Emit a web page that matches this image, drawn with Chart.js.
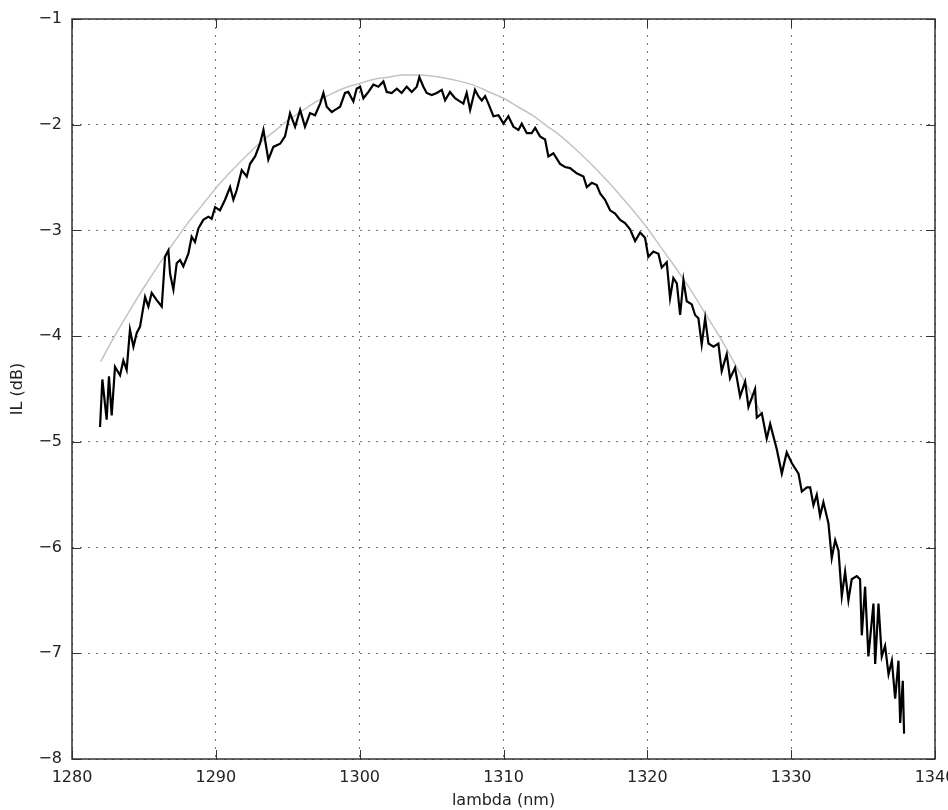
<!DOCTYPE html>
<html>
<head>
<meta charset="utf-8">
<script src="https://cdn.jsdelivr.net/npm/chart.js@4"></script>
<style>
  body { margin: 0; background: #fff; }
  canvas { display: block; }
</style>
</head>
<body>
<canvas id="grafico" width="948" height="810"></canvas>
<script>
// mesure (courbe noire)
const lambdaNm = [
  1281.95, 1282.11, 1282.41, 1282.57, 1282.76, 1282.99, 1283.34, 1283.57, 1283.80, 1284.03,
  1284.27, 1284.50, 1284.73, 1285.08, 1285.31, 1285.54, 1285.89, 1286.24, 1286.47, 1286.70,
  1286.82, 1287.05, 1287.28, 1287.51, 1287.74, 1288.09, 1288.32, 1288.55, 1288.79, 1289.13,
  1289.48, 1289.71, 1289.95, 1290.29, 1290.64, 1290.99, 1291.22, 1291.45, 1291.80, 1292.15,
  1292.38, 1292.73, 1293.07, 1293.31, 1293.65, 1294.00, 1294.47, 1294.81, 1295.16, 1295.51,
  1295.86, 1296.20, 1296.55, 1296.90, 1297.25, 1297.48, 1297.71, 1298.06, 1298.29, 1298.64,
  1298.98, 1299.21, 1299.56, 1299.79, 1300.03, 1300.26, 1300.61, 1300.95, 1301.30, 1301.65,
  1301.88, 1302.23, 1302.58, 1302.92, 1303.27, 1303.62, 1303.97, 1304.15, 1304.43, 1304.66,
  1305.01, 1305.36, 1305.71, 1305.94, 1306.28, 1306.63, 1306.86, 1307.21, 1307.44, 1307.68,
  1308.02, 1308.25, 1308.49, 1308.72, 1308.95, 1309.30, 1309.65, 1310.00, 1310.34, 1310.69,
  1311.04, 1311.27, 1311.62, 1311.96, 1312.20, 1312.54, 1312.89, 1313.12, 1313.47, 1313.93,
  1314.28, 1314.63, 1315.09, 1315.56, 1315.79, 1316.14, 1316.48, 1316.72, 1317.06, 1317.41,
  1317.76, 1318.11, 1318.45, 1318.80, 1319.15, 1319.50, 1319.84, 1320.07, 1320.42, 1320.77,
  1321.00, 1321.35, 1321.58, 1321.81, 1322.05, 1322.28, 1322.51, 1322.74, 1323.09, 1323.32,
  1323.55, 1323.78, 1324.02, 1324.25, 1324.60, 1324.94, 1325.17, 1325.52, 1325.75, 1326.10,
  1326.45, 1326.80, 1327.03, 1327.49, 1327.61, 1327.96, 1328.30, 1328.54, 1329.00, 1329.35,
  1329.69, 1330.04, 1330.51, 1330.74, 1331.09, 1331.32, 1331.55, 1331.78, 1332.01, 1332.24,
  1332.59, 1332.82, 1333.06, 1333.29, 1333.52, 1333.75, 1333.98, 1334.21, 1334.56, 1334.79,
  1334.91, 1335.14, 1335.37, 1335.72, 1335.84, 1336.07, 1336.30, 1336.53, 1336.77, 1337.00,
  1337.23, 1337.46, 1337.58, 1337.76, 1337.85
];
const ilDb = [
  -4.86, -4.41, -4.79, -4.38, -4.75, -4.29, -4.37, -4.23, -4.32, -3.94,
  -4.10, -3.97, -3.91, -3.63, -3.72, -3.59, -3.66, -3.72, -3.25, -3.19,
  -3.41, -3.56, -3.31, -3.28, -3.34, -3.22, -3.06, -3.11, -2.98, -2.90,
  -2.87, -2.89, -2.78, -2.81, -2.71, -2.59, -2.71, -2.62, -2.43, -2.49,
  -2.37, -2.30, -2.18, -2.05, -2.33, -2.21, -2.18, -2.11, -1.89, -2.02,
  -1.86, -2.02, -1.89, -1.91, -1.80, -1.70, -1.83, -1.88, -1.86, -1.83,
  -1.70, -1.69, -1.78, -1.66, -1.64, -1.75, -1.69, -1.62, -1.64, -1.59,
  -1.69, -1.70, -1.66, -1.70, -1.64, -1.69, -1.64, -1.55, -1.64, -1.70,
  -1.72, -1.70, -1.67, -1.77, -1.69, -1.75, -1.77, -1.80, -1.70, -1.86,
  -1.67, -1.73, -1.77, -1.73, -1.80, -1.92, -1.91, -1.99, -1.92, -2.02,
  -2.05, -1.99, -2.08, -2.08, -2.03, -2.11, -2.14, -2.30, -2.27, -2.37,
  -2.40, -2.41, -2.46, -2.49, -2.59, -2.55, -2.57, -2.65, -2.71, -2.81,
  -2.84, -2.90, -2.93, -2.99, -3.10, -3.02, -3.07, -3.25, -3.20, -3.22,
  -3.35, -3.30, -3.64, -3.45, -3.50, -3.80, -3.47, -3.67, -3.70, -3.80,
  -3.83, -4.08, -3.83, -4.07, -4.10, -4.07, -4.33, -4.17, -4.40, -4.30,
  -4.57, -4.43, -4.67, -4.50, -4.77, -4.73, -4.97, -4.83, -5.07, -5.30,
  -5.10, -5.20, -5.30, -5.47, -5.43, -5.43, -5.60, -5.50, -5.70, -5.57,
  -5.77, -6.10, -5.93, -6.03, -6.46, -6.23, -6.50, -6.30, -6.27, -6.30,
  -6.83, -6.37, -7.03, -6.53, -7.10, -6.53, -7.03, -6.93, -7.20, -7.07,
  -7.43, -7.07, -7.66, -7.26, -7.76
];

// ajustement (courbe grise)
const fitNm = [
  1282, 1283, 1284, 1285, 1286, 1287, 1288, 1289, 1290, 1291, 1292, 1293,
  1294, 1295, 1296, 1297, 1298, 1299, 1300, 1301, 1302, 1303, 1304, 1305,
  1306, 1307, 1308, 1309, 1310, 1311, 1312, 1313, 1314, 1315, 1316, 1317,
  1318, 1319, 1320, 1321, 1322, 1323, 1324, 1325, 1326, 1327, 1328
];
const fitDb = [
  -4.24, -3.99, -3.76, -3.54, -3.33, -3.13, -2.94, -2.77, -2.60, -2.45, -2.31, -2.18,
  -2.07, -1.96, -1.87, -1.78, -1.71, -1.65, -1.61, -1.57, -1.55, -1.53, -1.53, -1.54,
  -1.56, -1.59, -1.63, -1.69, -1.75, -1.83, -1.91, -2.01, -2.11, -2.23, -2.36, -2.50,
  -2.65, -2.81, -2.98, -3.17, -3.36, -3.56, -3.78, -4.00, -4.24, -4.49, -4.75
];

const xTicks = [1280, 1290, 1300, 1310, 1320, 1330, 1340];
const yTicks = [-8, -7, -6, -5, -4, -3, -2, -1];

const police = { family: "DejaVu Sans", size: 16 };
const moins = v => (v < 0 ? "\u2212" + Math.abs(v) : String(v));

// cadre + graduations vers l'intérieur (style matplotlib)
const cadre = {
  id: "cadre",
  afterDraw(chart) {
    const { ctx, chartArea: a, scales } = chart;
    const t = 9;
    ctx.save();
    ctx.strokeStyle = "#333";
    ctx.lineWidth = 1;
    ctx.beginPath();
    xTicks.forEach(v => {
      const px = Math.round(scales.x.getPixelForValue(v)) + 0.5;
      ctx.moveTo(px, a.bottom); ctx.lineTo(px, a.bottom - t);
      ctx.moveTo(px, a.top); ctx.lineTo(px, a.top + t);
    });
    yTicks.forEach(v => {
      const py = Math.round(scales.y.getPixelForValue(v)) + 0.5;
      ctx.moveTo(a.left, py); ctx.lineTo(a.left + t, py);
      ctx.moveTo(a.right, py); ctx.lineTo(a.right - t, py);
    });
    ctx.stroke();
    ctx.lineWidth = 1.5;
    ctx.strokeRect(a.left, a.top, a.right - a.left, a.bottom - a.top);
    ctx.restore();
  }
};

const ctx = document.getElementById("grafico");

new Chart(ctx, {
  type: "line",
  data: {
    datasets: [
      {
        label: "mesure",
        data: lambdaNm.map((l, i) => ({ x: l, y: ilDb[i] })),
        borderColor: "#000",
        borderWidth: 2.2,
        pointRadius: 0,
        tension: 0,
        order: 1,
      },
      {
        label: "fit",
        data: fitNm.map((l, i) => ({ x: l, y: fitDb[i] })),
        borderColor: "#c4c4c4",
        borderWidth: 1.5,
        pointRadius: 0,
        cubicInterpolationMode: "monotone",
        order: 2,
      },
    ],
  },
  options: {
    responsive: false,
    animation: false,
    devicePixelRatio: 1,
    layout: { padding: { top: 19, right: 13, left: 0, bottom: 0 } },
    plugins: {
      legend: { display: false },
      tooltip: { enabled: false },
    },
    scales: {
      x: {
        type: "linear",
        min: 1280,
        max: 1340,
        afterBuildTicks: s => { s.ticks = xTicks.map(v => ({ value: v })); },
        afterFit: s => { s.height = 51; s.paddingLeft = 0; s.paddingRight = 0; },
        grid: { color: "rgba(0,0,0,0.55)", lineWidth: 1, drawTicks: false },
        border: { display: false, dash: [2, 6] },
        ticks: { padding: 9, color: "#222", font: police, maxRotation: 0, autoSkip: false, callback: v => String(v) },
        title: {
          display: true,
          text: "lambda (nm)",
          color: "#222",
          font: police,
          padding: { top: 0, bottom: 0 },
        },
      },
      y: {
        min: -8,
        max: -1,
        afterBuildTicks: s => { s.ticks = yTicks.map(v => ({ value: v })); },
        afterFit: s => { s.width = 72; s.paddingTop = 0; s.paddingBottom = 0; },
        grid: { color: "rgba(0,0,0,0.55)", lineWidth: 1, drawTicks: false },
        border: { display: false, dash: [2, 6] },
        ticks: { padding: 10, color: "#222", font: police, callback: moins },
        title: {
          display: true,
          text: "IL (dB)",
          color: "#222",
          font: police,
          padding: { top: 8, bottom: 0 },
        },
      },
    },
  },
  plugins: [cadre],
});
</script>
</body>
</html>
